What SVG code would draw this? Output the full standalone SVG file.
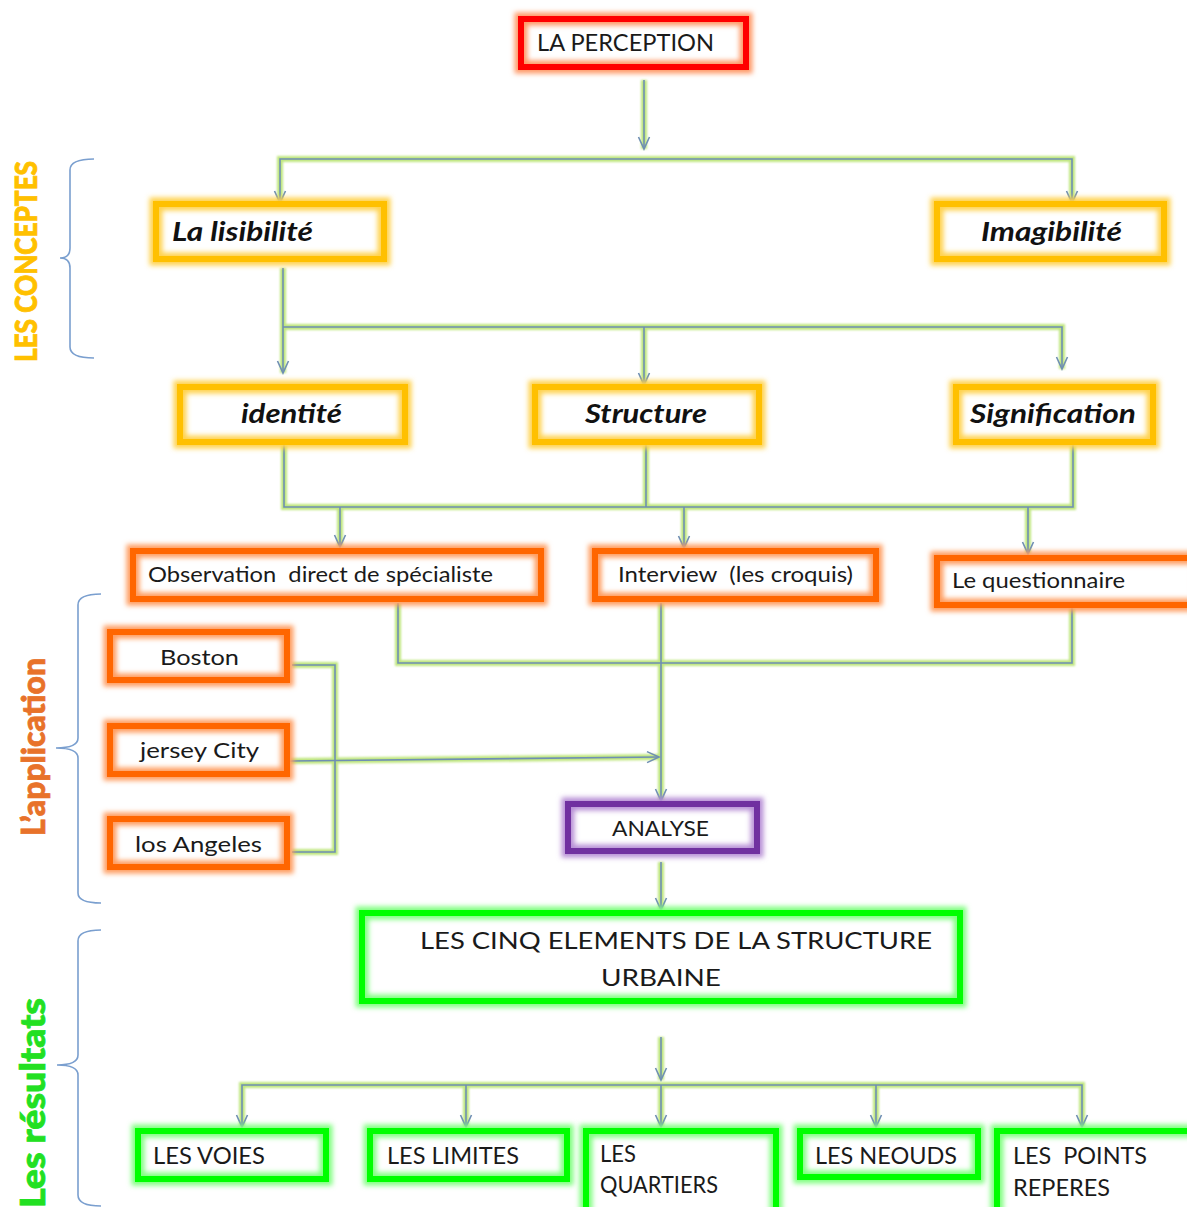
<svg xmlns="http://www.w3.org/2000/svg" xmlns:xlink="http://www.w3.org/1999/xlink" width="1187" height="1207" viewBox="0 0 1187 1207">
<defs>
<style>
.halo{fill:none;stroke-width:13;filter:url(#blur)}
.frame{fill:none;stroke-width:6}
.red .halo{stroke:#ff9966}.red .frame{stroke:#ff0000}
.yel .halo{stroke:#ffd24d}.yel .frame{stroke:#ffc000}
.org .halo{stroke:#ff9c5e}.org .frame{stroke:#ff6600}
.pur .halo{stroke:#b78fd6}.pur .frame{stroke:#7030a0}
.grn .halo{stroke:#80ff80}.grn .frame{stroke:#00ff00}
text{font-family:Lato,"Open Sans","Liberation Sans",sans-serif;fill:#1a1a1a}
.t{font-size:24px}
.s{font-size:22px}
.bi{font-size:26px;font-weight:bold;font-style:italic;fill:#111}
.side{font-weight:900;stroke-width:0.8}
.cglow{fill:none;stroke:#bfe67f;stroke-width:6;filter:url(#cblur)}
.cline{fill:none;stroke:#6f8fb3;stroke-width:1.6}
.arr{marker-end:url(#ah)}
.brace{fill:none;stroke:#7a9fcf;stroke-width:1.6}
</style>
<filter id="blur" x="-20%" y="-60%" width="140%" height="220%"><feGaussianBlur stdDeviation="2.8"/></filter>
<filter id="cblur" x="-10%" y="-10%" width="120%" height="120%"><feGaussianBlur stdDeviation="1.2"/></filter>
<marker id="ah" viewBox="-14 -7 16 14" refX="0" refY="0" markerWidth="16" markerHeight="14" markerUnits="userSpaceOnUse" orient="auto">
<path d="M-12,-5.5 L0,0 L-12,5.5" fill="none" stroke="#6f8fb3" stroke-width="1.6"/>
</marker>
<path id="p1" d="M644,80 V149"/>
<path id="p2" d="M644,159 H280 V203"/>
<path id="p3" d="M644,159 H1072 V203"/>
<path id="p4" d="M283,268 V373"/>
<path id="p5" d="M283,327 H1062 V369"/>
<path id="p6" d="M644,327 V385"/>
<path id="p7" d="M284,445 V507 H1073 V445"/>
<path id="p8" d="M646,445 V507"/>
<path id="p9" d="M340,507 V547"/>
<path id="p10" d="M684,507 V548"/>
<path id="p11" d="M1028,507 V554"/>
<path id="p12" d="M398,603 V663 H1072 V608"/>
<path id="p13" d="M661,603 V801"/>
<path id="p14" d="M292,665 H335 V852 H292"/>
<path id="p15" d="M290,761 L659,757"/>
<path id="p16" d="M661,862 V910"/>
<path id="p17" d="M661,1037 V1080"/>
<path id="p18" d="M661,1085 H242 V1127"/>
<path id="p19" d="M661,1085 H1082 V1127"/>
<path id="p20" d="M466,1085 V1127"/>
<path id="p21" d="M661,1085 V1127"/>
<path id="p22" d="M876,1085 V1127"/>
</defs>
<rect width="1187" height="1207" fill="#ffffff"/>

<g id="connectors">
<g class="cglow">
<use xlink:href="#p1"/><use xlink:href="#p2"/><use xlink:href="#p3"/><use xlink:href="#p4"/><use xlink:href="#p5"/><use xlink:href="#p6"/><use xlink:href="#p7"/><use xlink:href="#p8"/><use xlink:href="#p9"/><use xlink:href="#p10"/><use xlink:href="#p11"/><use xlink:href="#p12"/><use xlink:href="#p13"/><use xlink:href="#p14"/><use xlink:href="#p15"/><use xlink:href="#p16"/><use xlink:href="#p17"/><use xlink:href="#p18"/><use xlink:href="#p19"/><use xlink:href="#p20"/><use xlink:href="#p21"/><use xlink:href="#p22"/>
</g>
<g class="cline">
<use xlink:href="#p1" class="arr"/><use xlink:href="#p2" class="arr"/><use xlink:href="#p3" class="arr"/><use xlink:href="#p4" class="arr"/><use xlink:href="#p5" class="arr"/><use xlink:href="#p6" class="arr"/><use xlink:href="#p7"/><use xlink:href="#p8"/><use xlink:href="#p9" class="arr"/><use xlink:href="#p10" class="arr"/><use xlink:href="#p11" class="arr"/><use xlink:href="#p12"/><use xlink:href="#p13" class="arr"/><use xlink:href="#p14"/><use xlink:href="#p15" class="arr"/><use xlink:href="#p16" class="arr"/><use xlink:href="#p17" class="arr"/><use xlink:href="#p18" class="arr"/><use xlink:href="#p19" class="arr"/><use xlink:href="#p20" class="arr"/><use xlink:href="#p21" class="arr"/><use xlink:href="#p22" class="arr"/>
</g>
</g>

<g id="braces">
<path class="brace" d="M94,159 Q70,159 70,170 V248 Q70,258 60,258 Q70,258 70,268 V347 Q70,358 94,358"/>
<path class="brace" d="M101,594 Q78,594 78,605 V738 Q78,748 56,748 Q78,748 78,758 V893 Q78,903 101,903"/>
<path class="brace" d="M101,930 Q78,930 78,941 V1055 Q78,1065 57,1065 Q78,1065 78,1075 V1195 Q78,1206 101,1206"/>
</g>

<g id="label-concepts"><text class="side" transform="translate(37,362) rotate(-90)" font-size="30" style="fill:#ffc000;stroke:#ffc000" textLength="201" lengthAdjust="spacingAndGlyphs">LES CONCEPTES</text></g>
<g id="label-application"><text class="side" transform="translate(45,836) rotate(-90)" font-size="33" style="fill:#e8722a;stroke:#e8722a" textLength="178" lengthAdjust="spacingAndGlyphs">L’application</text></g>
<g id="label-resultats"><text class="side" transform="translate(45,1208) rotate(-90)" font-size="35" style="fill:#22e022;stroke:#22e022" textLength="210" lengthAdjust="spacingAndGlyphs">Les résultats</text></g>

<g id="n-perception" class="red"><rect class="halo" x="521" y="19" width="225" height="48"/><rect class="frame" x="521" y="19" width="225" height="48"/><text class="t" x="537" y="51" textLength="177" lengthAdjust="spacingAndGlyphs">LA PERCEPTION</text></g>

<g id="n-lisibilite" class="yel"><rect class="halo" x="156" y="204" width="228" height="55"/><rect class="frame" x="156" y="204" width="228" height="55"/><text class="bi" x="172" y="241" textLength="141" lengthAdjust="spacingAndGlyphs">La lisibilité</text></g>
<g id="n-imagibilite" class="yel"><rect class="halo" x="937" y="204" width="227" height="55"/><rect class="frame" x="937" y="204" width="227" height="55"/><text class="bi" x="981" y="241" textLength="141" lengthAdjust="spacingAndGlyphs">Imagibilité</text></g>

<g id="n-identite" class="yel"><rect class="halo" x="180" y="387" width="225" height="55"/><rect class="frame" x="180" y="387" width="225" height="55"/><text class="bi" x="241" y="423" textLength="101" lengthAdjust="spacingAndGlyphs">identité</text></g>
<g id="n-structure" class="yel"><rect class="halo" x="535" y="387" width="224" height="55"/><rect class="frame" x="535" y="387" width="224" height="55"/><text class="bi" x="585" y="423" textLength="122" lengthAdjust="spacingAndGlyphs">Structure</text></g>
<g id="n-signification" class="yel"><rect class="halo" x="956" y="387" width="197" height="55"/><rect class="frame" x="956" y="387" width="197" height="55"/><text class="bi" x="970" y="423" textLength="166" lengthAdjust="spacingAndGlyphs">Signification</text></g>

<g id="n-observation" class="org"><rect class="halo" x="133" y="551" width="408" height="48"/><rect class="frame" x="133" y="551" width="408" height="48"/><text class="s" x="148" y="582" textLength="345" lengthAdjust="spacingAndGlyphs" xml:space="preserve">Observation  direct de spécialiste</text></g>
<g id="n-interview" class="org"><rect class="halo" x="595" y="551" width="281" height="48"/><rect class="frame" x="595" y="551" width="281" height="48"/><text class="s" x="618" y="582" textLength="235" lengthAdjust="spacingAndGlyphs" xml:space="preserve">Interview  (les croquis)</text></g>
<g id="n-questionnaire" class="org"><rect class="halo" x="937" y="558" width="262" height="47"/><rect class="frame" x="937" y="558" width="262" height="47"/><text class="s" x="952" y="588" textLength="173" lengthAdjust="spacingAndGlyphs">Le questionnaire</text></g>

<g id="n-boston" class="org"><rect class="halo" x="110" y="632" width="177" height="48"/><rect class="frame" x="110" y="632" width="177" height="48"/><text class="s" x="160" y="665" textLength="79" lengthAdjust="spacingAndGlyphs">Boston</text></g>
<g id="n-jersey" class="org"><rect class="halo" x="110" y="726" width="177" height="48"/><rect class="frame" x="110" y="726" width="177" height="48"/><text class="s" x="140" y="758" textLength="119" lengthAdjust="spacingAndGlyphs">jersey City</text></g>
<g id="n-losangeles" class="org"><rect class="halo" x="110" y="819" width="177" height="48"/><rect class="frame" x="110" y="819" width="177" height="48"/><text class="s" x="135" y="852" textLength="127" lengthAdjust="spacingAndGlyphs">los Angeles</text></g>

<g id="n-analyse" class="pur"><rect class="halo" x="568" y="804" width="189" height="47"/><rect class="frame" x="568" y="804" width="189" height="47"/><text class="s" x="612" y="836" textLength="97" lengthAdjust="spacingAndGlyphs">ANALYSE</text></g>

<g id="n-cinq" class="grn"><rect class="halo" x="362" y="913" width="598" height="88"/><rect class="frame" x="362" y="913" width="598" height="88"/><text class="t" x="420" y="949" textLength="512" lengthAdjust="spacingAndGlyphs">LES CINQ ELEMENTS DE LA STRUCTURE</text><text class="t" x="601" y="986" textLength="120" lengthAdjust="spacingAndGlyphs">URBAINE</text></g>

<g id="n-voies" class="grn"><rect class="halo" x="138" y="1131" width="188" height="48"/><rect class="frame" x="138" y="1131" width="188" height="48"/><text class="t" x="153" y="1164" textLength="112" lengthAdjust="spacingAndGlyphs">LES VOIES</text></g>
<g id="n-limites" class="grn"><rect class="halo" x="370" y="1131" width="197" height="48"/><rect class="frame" x="370" y="1131" width="197" height="48"/><text class="t" x="387" y="1164" textLength="132" lengthAdjust="spacingAndGlyphs">LES LIMITES</text></g>
<g id="n-quartiers" class="grn"><rect class="halo" x="586" y="1131" width="190" height="92"/><rect class="frame" x="586" y="1131" width="190" height="92"/><text class="t" x="600" y="1162" textLength="36" lengthAdjust="spacingAndGlyphs">LES</text><text class="t" x="600" y="1193" textLength="118" lengthAdjust="spacingAndGlyphs">QUARTIERS</text></g>
<g id="n-neouds" class="grn"><rect class="halo" x="800" y="1131" width="178" height="46"/><rect class="frame" x="800" y="1131" width="178" height="46"/><text class="t" x="815" y="1164" textLength="142" lengthAdjust="spacingAndGlyphs">LES NEOUDS</text></g>
<g id="n-points" class="grn"><rect class="halo" x="997" y="1131" width="205" height="92"/><rect class="frame" x="997" y="1131" width="205" height="92"/><text class="t" x="1013" y="1164" textLength="134" lengthAdjust="spacingAndGlyphs" xml:space="preserve">LES  POINTS</text><text class="t" x="1013" y="1196" textLength="97" lengthAdjust="spacingAndGlyphs">REPERES</text></g>
</svg>
